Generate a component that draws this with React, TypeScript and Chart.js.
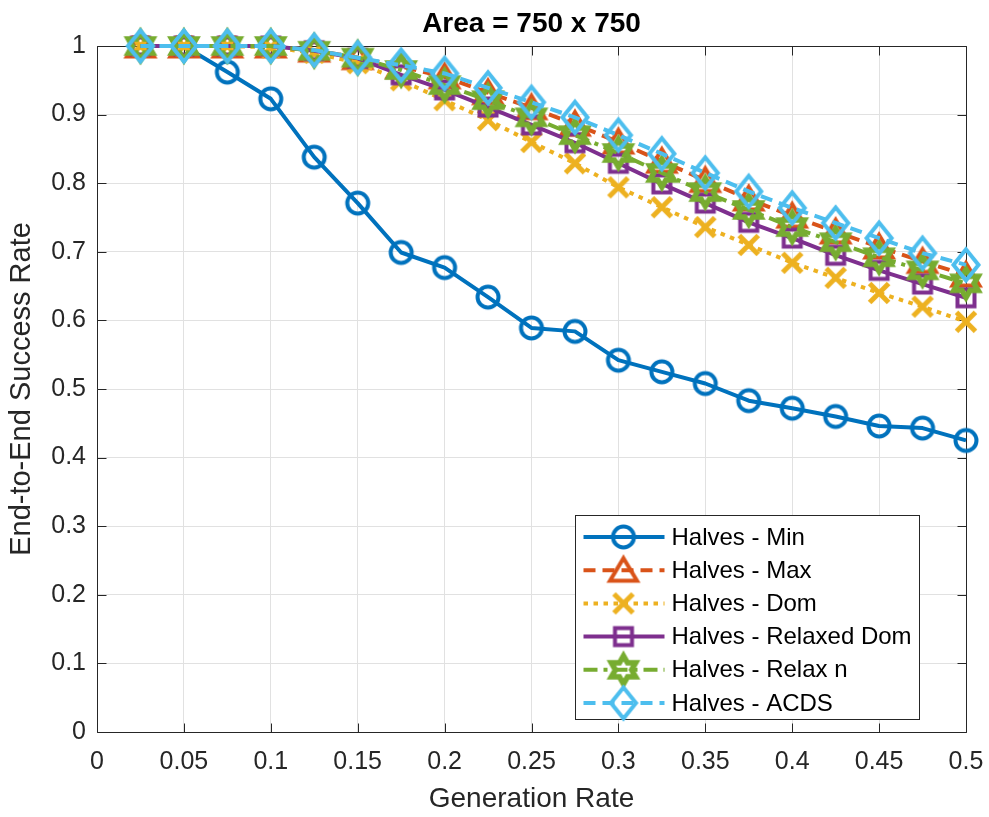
import React, { useEffect, useRef } from 'react';
import { Chart, registerables } from 'chart.js';

Chart.register(...registerables);

// ---------------- data ----------------
const generationRates = [0.025, 0.05, 0.075, 0.1, 0.125, 0.15, 0.175, 0.2, 0.225, 0.25, 0.275, 0.3, 0.325, 0.35, 0.375, 0.4, 0.425, 0.45, 0.475, 0.5];

const halvesMin = [1, 1, 0.962, 0.923, 0.838, 0.771, 0.699, 0.677, 0.634, 0.589, 0.584, 0.542, 0.525, 0.508, 0.483, 0.472, 0.46, 0.446, 0.443, 0.425];
const halvesMax = [1, 1, 1, 1, 0.994, 0.983, 0.97, 0.955, 0.932, 0.91, 0.886, 0.86, 0.832, 0.804, 0.777, 0.752, 0.729, 0.707, 0.686, 0.666];
const halvesDom = [1, 1, 1, 0.998, 0.99, 0.975, 0.95, 0.921, 0.892, 0.86, 0.829, 0.794, 0.765, 0.736, 0.71, 0.684, 0.662, 0.64, 0.62, 0.598];
const halvesRelaxedDom = [1, 1, 1, 1, 0.993, 0.982, 0.958, 0.936, 0.911, 0.885, 0.859, 0.829, 0.799, 0.771, 0.743, 0.72, 0.695, 0.673, 0.653, 0.633];
const halvesRelaxN = [1, 1, 1, 1, 0.993, 0.983, 0.965, 0.943, 0.921, 0.896, 0.87, 0.844, 0.815, 0.787, 0.761, 0.736, 0.714, 0.692, 0.673, 0.654];
const halvesACDS = [1, 1, 1, 1, 0.994, 0.983, 0.972, 0.96, 0.939, 0.918, 0.896, 0.87, 0.843, 0.815, 0.788, 0.764, 0.742, 0.72, 0.698, 0.681];

const seriesNames = ['Halves - Min', 'Halves - Max', 'Halves - Dom', 'Halves - Relaxed Dom', 'Halves - Relax n', 'Halves - ACDS'];

const xTickValues = [0, 0.05, 0.1, 0.15, 0.2, 0.25, 0.3, 0.35, 0.4, 0.45, 0.5];
const xTickLabels = ['0', '0.05', '0.1', '0.15', '0.2', '0.25', '0.3', '0.35', '0.4', '0.45', '0.5'];
const yTickValues = [0, 0.1, 0.2, 0.3, 0.4, 0.5, 0.6, 0.7, 0.8, 0.9, 1];
const yTickLabels = ['0', '0.1', '0.2', '0.3', '0.4', '0.5', '0.6', '0.7', '0.8', '0.9', '1'];

const titleText = 'Area = 750 x 750';
const xTitle = 'Generation Rate';
const yTitle = 'End-to-End Success Rate';

// ---------------- styles ----------------
const FONT = "'Liberation Sans', Arial, Helvetica, sans-serif";
const AXIS_COLOR = '#262626';
const GRID_COLOR = '#e1e1e1';

type MarkerKind = 'circle' | 'triangle' | 'cross' | 'square' | 'hexagram' | 'diamond';

function makeMarker(kind: MarkerKind, color: string): HTMLCanvasElement {
  const size = 46;
  const c = document.createElement('canvas');
  c.width = size;
  c.height = size;
  const ctx = c.getContext('2d')!;
  const cx = size / 2;
  const cy = size / 2;
  ctx.strokeStyle = color;
  ctx.lineWidth = 4;
  ctx.lineJoin = 'miter';
  ctx.beginPath();
  if (kind === 'circle') {
    ctx.arc(cx, cy, 10.5, 0, Math.PI * 2);
  } else if (kind === 'triangle') {
    ctx.moveTo(cx, cy - 12);
    ctx.lineTo(cx + 13.5, cy + 10.5);
    ctx.lineTo(cx - 13.5, cy + 10.5);
    ctx.closePath();
  } else if (kind === 'cross') {
    ctx.lineCap = 'butt';
    ctx.lineWidth = 5;
    const a = 9.5;
    ctx.moveTo(cx - a, cy - a);
    ctx.lineTo(cx + a, cy + a);
    ctx.moveTo(cx + a, cy - a);
    ctx.lineTo(cx - a, cy + a);
  } else if (kind === 'square') {
    const h = 8.5;
    ctx.rect(cx - h, cy - h, 2 * h, 2 * h);
  } else if (kind === 'hexagram') {
    const R = 14;
    const r = R / Math.sqrt(3);
    for (let k = 0; k < 12; k++) {
      const ang = -Math.PI / 2 + (k * Math.PI) / 6;
      const rr = k % 2 === 0 ? R : r;
      const px = cx + Math.cos(ang) * rr;
      const py = cy + Math.sin(ang) * rr;
      if (k === 0) ctx.moveTo(px, py);
      else ctx.lineTo(px, py);
    }
    ctx.closePath();
    ctx.lineWidth = 5.5;
  } else if (kind === 'diamond') {
    ctx.moveTo(cx, cy - 15.5);
    ctx.lineTo(cx + 12.5, cy);
    ctx.lineTo(cx, cy + 15.5);
    ctx.lineTo(cx - 12.5, cy);
    ctx.closePath();
  }
  ctx.stroke();
  return c;
}

const seriesColors = ['#0072BD', '#D95319', '#EDB120', '#7E2F8E', '#77AC30', '#4DBEEE'];
const seriesDashes: number[][] = [[], [12, 7], [4.5, 5.5], [], [14, 6, 4, 6], [12, 7]];
const seriesMarkers: MarkerKind[] = ['circle', 'triangle', 'cross', 'square', 'hexagram', 'diamond'];
const seriesValues = [halvesMin, halvesMax, halvesDom, halvesRelaxedDom, halvesRelaxN, halvesACDS];

export default function App() {
  const canvasRef = useRef<HTMLCanvasElement | null>(null);

  useEffect(() => {
    document.body.style.margin = '0';
    const canvas = canvasRef.current;
    if (!canvas) return;

    const markers = seriesMarkers.map((m, i) => makeMarker(m, seriesColors[i]));

    const datasets = seriesNames.map((name, i) => ({
      label: name,
      data: generationRates.map((x, j) => ({ x, y: seriesValues[i][j] })),
      borderColor: seriesColors[i],
      backgroundColor: seriesColors[i],
      borderWidth: 4,
      borderDash: seriesDashes[i],
      borderCapStyle: 'butt' as const,
      borderJoinStyle: 'round' as const,
      pointStyle: markers[i],
      pointRadius: 12,
      pointHoverRadius: 12,
      tension: 0,
      fill: false,
      clip: false as const,
      order: seriesNames.length - i,
    }));

    const framePlugin = {
      id: 'matlabFrame',
      beforeDatasetsDraw(chart: any) {
        const { ctx, chartArea: a, scales } = chart;
        ctx.save();
        ctx.strokeStyle = AXIS_COLOR;
        ctx.lineWidth = 1;
        ctx.setLineDash([]);
        const L = Math.round(a.left) + 0.5;
        const R = Math.round(a.right) + 0.5;
        const T = Math.round(a.top) + 0.5;
        const B = Math.round(a.bottom) + 0.5;
        ctx.beginPath();
        ctx.rect(L, T, R - L, B - T);
        ctx.stroke();
        const tl = 9;
        ctx.beginPath();
        xTickValues.forEach((v) => {
          const px = Math.round(scales.x.getPixelForValue(v)) + 0.5;
          ctx.moveTo(px, B);
          ctx.lineTo(px, B - tl);
          ctx.moveTo(px, T);
          ctx.lineTo(px, T + tl);
        });
        yTickValues.forEach((v) => {
          const py = Math.round(scales.y.getPixelForValue(v)) + 0.5;
          ctx.moveTo(L, py);
          ctx.lineTo(L + tl, py);
          ctx.moveTo(R, py);
          ctx.lineTo(R - tl, py);
        });
        ctx.stroke();
        ctx.restore();
      },
      afterDraw(chart: any) {
        const { ctx, chartArea: a } = chart;
        const w = 344;
        const h = 204;
        const x0 = Math.round(a.right - 47 - w) + 0.5;
        const y0 = Math.round(a.bottom - 13 - h) + 0.5;
        ctx.save();
        ctx.fillStyle = '#ffffff';
        ctx.fillRect(x0, y0, w, h);
        ctx.strokeStyle = AXIS_COLOR;
        ctx.lineWidth = 1;
        ctx.setLineDash([]);
        ctx.strokeRect(x0, y0, w, h);
        const rowH = 33.2;
        seriesNames.forEach((name, i) => {
          const cy = y0 + 21.5 + i * rowH;
          ctx.save();
          ctx.strokeStyle = seriesColors[i];
          ctx.lineWidth = 4;
          ctx.lineCap = 'butt';
          ctx.setLineDash(seriesDashes[i]);
          ctx.beginPath();
          ctx.moveTo(x0 + 8, cy);
          ctx.lineTo(x0 + 89, cy);
          ctx.stroke();
          ctx.restore();
          const m = markers[i];
          ctx.drawImage(m, x0 + 48 - m.width / 2, cy - m.height / 2);
          ctx.fillStyle = '#000000';
          ctx.font = `24px ${FONT}`;
          ctx.textAlign = 'left';
          ctx.textBaseline = 'middle';
          ctx.fillText(name, x0 + 96, cy + 1);
        });
        ctx.restore();
      },
    };

    const chart = new Chart(canvas, {
      type: 'line',
      data: { datasets },
      options: {
        responsive: false,
        animation: false,
        events: [],
        layout: { padding: { left: 0, right: 23, top: 0, bottom: 0 } },
        plugins: {
          legend: { display: false },
          tooltip: { enabled: false },
          title: {
            display: true,
            text: titleText,
            fullSize: false,
            color: '#000000',
            font: { family: FONT, size: 28, weight: 'bold' },
            padding: { top: 7, bottom: 5.4 },
          },
        },
        scales: {
          x: {
            type: 'linear',
            min: 0,
            max: 0.5,
            afterBuildTicks(scale: any) {
              scale.ticks = xTickValues.map((v) => ({ value: v }));
            },
            afterFit(scale: any) {
              scale.height = 85;
              scale.paddingLeft = 0;
              scale.paddingRight = 0;
            },
            ticks: {
              autoSkip: false,
              maxRotation: 0,
              padding: 15,
              color: AXIS_COLOR,
              font: { family: FONT, size: 25 },
              callback: (v: any) => {
                const idx = xTickValues.findIndex((t) => Math.abs(t - Number(v)) < 1e-9);
                return idx >= 0 ? xTickLabels[idx] : '';
              },
            },
            grid: { color: GRID_COLOR, lineWidth: 1, drawTicks: false },
            border: { display: false },
            title: {
              display: true,
              text: xTitle,
              color: AXIS_COLOR,
              font: { family: FONT, size: 28 },
              padding: { top: 0, bottom: 1 },
            },
          },
          y: {
            type: 'linear',
            min: 0,
            max: 1,
            afterBuildTicks(scale: any) {
              scale.ticks = yTickValues.map((v) => ({ value: v }));
            },
            afterFit(scale: any) {
              scale.width = 97;
              scale.paddingTop = 0;
              scale.paddingBottom = 0;
            },
            ticks: {
              autoSkip: false,
              padding: 11,
              color: AXIS_COLOR,
              font: { family: FONT, size: 25 },
              callback: (v: any) => {
                const idx = yTickValues.findIndex((t) => Math.abs(t - Number(v)) < 1e-9);
                return idx >= 0 ? yTickLabels[idx] : '';
              },
            },
            grid: { color: GRID_COLOR, lineWidth: 1, drawTicks: false },
            border: { display: false },
            title: {
              display: true,
              text: yTitle,
              color: AXIS_COLOR,
              font: { family: FONT, size: 29 },
              padding: { top: 5, bottom: 0 },
            },
          },
        },
      },
      plugins: [framePlugin],
    });

    return () => {
      chart.destroy();
    };
  }, []);

  return (
    <div style={{ width: 989, height: 817, position: 'relative', background: '#ffffff' }}>
      <canvas ref={canvasRef} width={989} height={817} style={{ display: 'block' }} />
    </div>
  );
}
